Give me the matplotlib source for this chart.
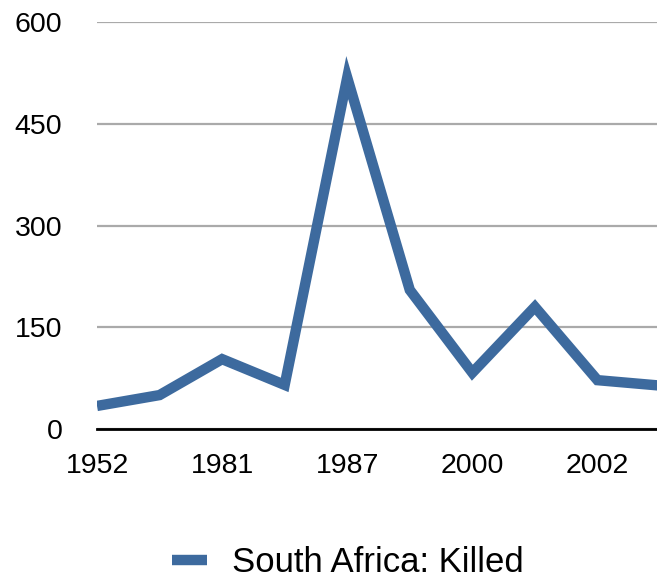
import matplotlib
matplotlib.use('Agg')
import matplotlib.pyplot as plt
import numpy as np

# DATA
years = ['1952', '', '1981', '', '1987', '', '2000', '', '2002', '']
killed = [34, 50, 103, 65, 518, 205, 83, 180, 72, 64]

plt.rcParams.update({'font.family': ['Liberation Sans', 'DejaVu Sans']})

fig = plt.figure(figsize=(6.57, 5.81), dpi=100)
ax = fig.add_axes([97/657, 1-429/581, 563/657, 407/581])

x = np.arange(len(killed))
ax.plot(x, killed, color='#3d6a9e', linewidth=7.5, solid_joinstyle='miter',
        solid_capstyle='butt', label='South Africa: Killed', zorder=3)

ax.set_xlim(0, len(killed) - 1)
ax.set_ylim(0, 600)
ax.set_yticks([0, 150, 300, 450, 600])
ax.set_xticks(x)
ax.set_xticklabels(years)
ax.tick_params(axis='both', length=0, labelsize=20.5)
ax.tick_params(axis='y', pad=25)
ax.tick_params(axis='x', pad=17)

ax.yaxis.grid(True, color='#aaaaaa', linewidth=1.6)
ax.set_axisbelow(True)
for s in ['top', 'left', 'right']:
    ax.spines[s].set_visible(False)
ax.spines['bottom'].set_linewidth(2.0)
ax.spines['bottom'].set_zorder(4)

fig.legend(loc='center', bbox_to_anchor=(0.53, 1-563/581), frameon=False,
           fontsize=25, handlelength=1.0, handletextpad=0.72)

plt.savefig('out.png', dpi=100)
